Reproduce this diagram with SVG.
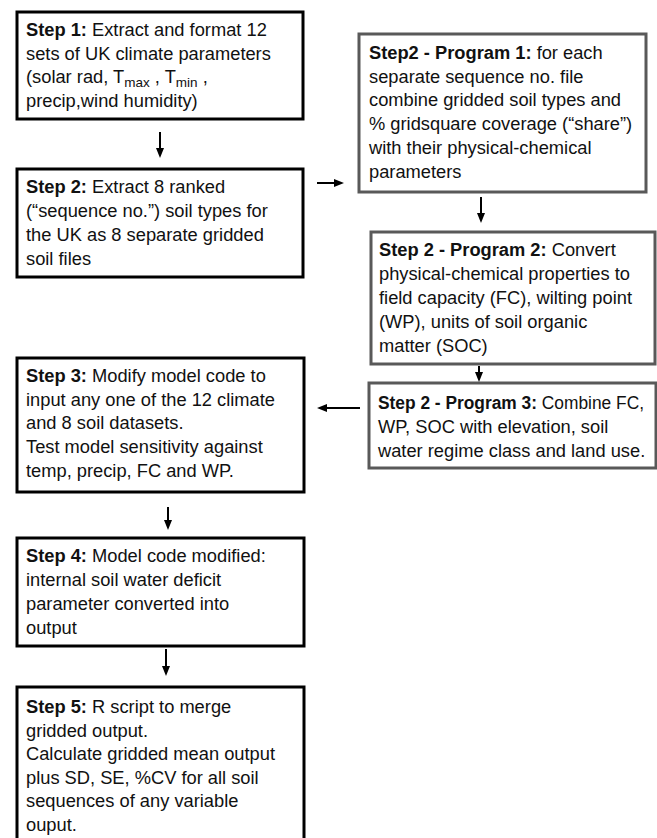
<svg xmlns="http://www.w3.org/2000/svg" width="657" height="838" viewBox="0 0 657 838">
<style>
text{font-family:"Liberation Sans",Arial,sans-serif;font-size:18.3px;fill:#111}
.b{font-weight:bold}
.sub{font-size:13.5px}
.boxL{fill:#fff;stroke:#000;stroke-width:3}
.boxR{fill:#fff;stroke:#595959;stroke-width:3}
.conn line{stroke:#000;stroke-width:2}
</style>
<defs>
<marker id="ah" markerUnits="userSpaceOnUse" markerWidth="10" markerHeight="10" viewBox="0 0 10 10" refX="4" refY="5" orient="auto">
<path d="M0,1 L10,5 L0,9 z" fill="#000"/>
</marker>
</defs>
<rect width="657" height="838" fill="#fff"/>

<g id="step1">
<rect class="boxL" x="17" y="12" width="286" height="107"/>
<text x="26" y="36"><tspan class="b">Step 1:</tspan> Extract and format 12</text>
<text x="26" y="60">sets of UK climate parameters</text>
<text x="26" y="83">(solar rad, T<tspan class="sub" dy="4">max</tspan><tspan dy="-4"> , T</tspan><tspan class="sub" dy="4">min</tspan><tspan dy="-4"> ,</tspan></text>
<text x="26" y="107">precip,wind humidity)</text>
</g>

<g id="step2">
<rect class="boxL" x="17" y="169" width="286" height="108"/>
<text x="26" y="193"><tspan class="b">Step 2:</tspan> Extract 8 ranked</text>
<text x="26" y="217">(“sequence no.”) soil types for</text>
<text x="26" y="241">the UK as 8 separate gridded</text>
<text x="26" y="265">soil files</text>
</g>

<g id="prog1">
<rect class="boxR" x="359" y="34" width="287" height="158"/>
<text x="369" y="59"><tspan class="b">Step2 - Program 1:</tspan> for each</text>
<text x="369" y="83">separate sequence no. file</text>
<text x="369" y="106">combine gridded soil types and</text>
<text x="369" y="130">% gridsquare coverage (“share”)</text>
<text x="369" y="154">with their physical-chemical</text>
<text x="369" y="178">parameters</text>
</g>

<g id="prog2">
<rect class="boxR" x="371" y="232" width="284" height="132"/>
<text x="379" y="256"><tspan class="b">Step 2 - Program 2:</tspan> Convert</text>
<text x="379" y="280">physical-chemical properties to</text>
<text x="379" y="304">field capacity (FC), wilting point</text>
<text x="379" y="328">(WP), units of soil organic</text>
<text x="379" y="352">matter (SOC)</text>
</g>

<g id="prog3">
<rect class="boxR" x="369" y="383" width="287" height="85"/>
<text x="378" y="409" textLength="266" lengthAdjust="spacingAndGlyphs"><tspan class="b">Step 2 - Program 3:</tspan> Combine FC,</text>
<text x="378" y="433">WP, SOC with elevation, soil</text>
<text x="378" y="457">water regime class and land use.</text>
</g>

<g id="step3">
<rect class="boxL" x="17" y="358" width="287" height="134"/>
<text x="26" y="382"><tspan class="b">Step 3:</tspan> Modify model code to</text>
<text x="26" y="406">input any one of the 12 climate</text>
<text x="26" y="429">and 8 soil datasets.</text>
<text x="26" y="453">Test model sensitivity against</text>
<text x="26" y="477">temp, precip, FC and WP.</text>
</g>

<g id="step4">
<rect class="boxL" x="17" y="538" width="287" height="108"/>
<text x="26" y="562"><tspan class="b">Step 4:</tspan> Model code modified:</text>
<text x="26" y="586">internal soil water deficit</text>
<text x="26" y="610">parameter converted into</text>
<text x="26" y="634">output</text>
</g>

<g id="step5">
<rect class="boxL" x="17" y="687" width="287" height="170"/>
<text x="26" y="713"><tspan class="b">Step 5:</tspan> R script to merge</text>
<text x="26" y="737">gridded output.</text>
<text x="26" y="760">Calculate gridded mean output</text>
<text x="26" y="784">plus SD, SE, %CV for all soil</text>
<text x="26" y="807">sequences of any variable</text>
<text x="26" y="831">ouput.</text>
</g>

<g id="connectors" class="conn">
<line x1="160" y1="132" x2="160" y2="152" marker-end="url(#ah)"/>
<line x1="317" y1="183" x2="338" y2="183" marker-end="url(#ah)"/>
<line x1="481" y1="197" x2="481" y2="217" marker-end="url(#ah)"/>
<line x1="479" y1="366" x2="479" y2="376" marker-end="url(#ah)"/>
<line x1="360" y1="408" x2="323" y2="408" marker-end="url(#ah)"/>
<line x1="168" y1="507" x2="168" y2="524" marker-end="url(#ah)"/>
<line x1="166" y1="649" x2="166" y2="670" marker-end="url(#ah)"/>
</g>
</svg>
